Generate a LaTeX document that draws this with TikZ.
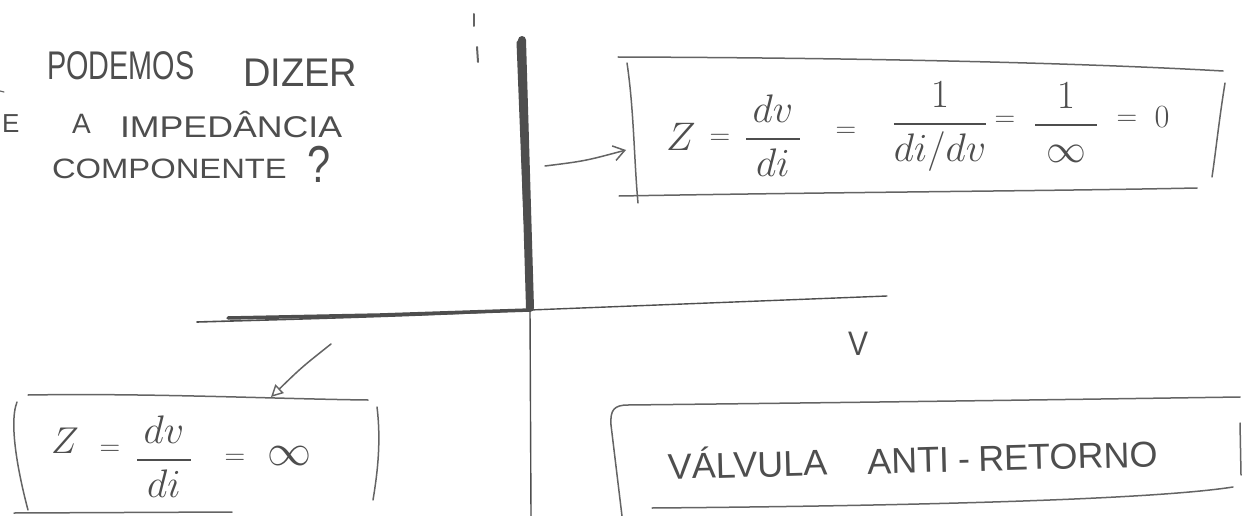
\documentclass[tikz,border=0pt]{standalone}
\usepackage{amsmath}
\usepackage{fontspec}
\usepackage{graphicx}
\setmainfont{Liberation Sans}
\usetikzlibrary{arrows.meta}
\definecolor{pencil}{RGB}{100,100,100}
\definecolor{lead}{RGB}{78,78,78}
\newcommand{\mbig}[2][1.6]{\scalebox{#1}{$\displaystyle #2$}}
\begin{document}
\begin{tikzpicture}[x=1pt,y=-1pt,
  stroke/.style={draw=pencil,line width=1.5pt,line cap=round,line join=round},
  thinaxis/.style={draw=lead,line width=1.4pt,line cap=round},
  thickaxis/.style={draw=lead,line width=#1,line cap=round},
  hand/.style={text=lead,inner sep=0pt,outer sep=0pt},
  fml/.style={hand,anchor=base,font=\fontsize{24.88}{25}\selectfont},
  arrowA/.style={stroke,-{Straight Barb[length=11pt,width=15pt,line width=1.5pt]}},
  arrowB/.style={stroke,-{Triangle[open,length=12pt,width=12pt,line width=1.4pt]}}
]
\useasboundingbox (0,0) rectangle (1252,516);
\clip (0,0) rectangle (1252,516);
\fill[white] (0,0) rectangle (1252,516);

% ---- question text (top left)
\node[hand,anchor=base west,font=\fontsize{40}{40}\selectfont] (q1a) at (47,80) {\scalebox{0.72}[1]{PODEMOS}};
\node[hand,anchor=base west,font=\fontsize{40}{40}\selectfont] (q1b) at (243,87) {\scalebox{0.95}[1]{DIZER}};
\draw[stroke,line width=1.2pt] (0,91) -- (4,92);
\node[hand,anchor=base west,font=\fontsize{26}{26}\selectfont] (q2f) at (2,132) {E};
\node[hand,anchor=base west,font=\fontsize{28}{28}\selectfont] (q2a) at (72,133) {A};
\node[hand,anchor=base west,font=\fontsize{30}{30}\selectfont] (q2b) at (120,137) {\scalebox{1.19}[1]{IMPEDÂNCIA}};
\node[hand,anchor=base west,font=\fontsize{28}{28}\selectfont] (q3a) at (52,178) {\scalebox{1.17}[1]{COMPONENTE}};
\node[hand,anchor=base west,font=\fontsize{52}{52}\selectfont] (q3b) at (307,182) {\scalebox{0.8}[1]{?}};

% ---- small tick marks at top
\draw[stroke,line width=2pt] (474,14) -- (474,26);
\draw[stroke,line width=2pt] (477,47) -- (478,62);

% ---- axes
\coordinate (O) at (530,310);
\draw[thickaxis=8pt] (522,40) -- (530,308);
\draw[thickaxis=3pt] (518,42) -- (525,220);
\draw[thinaxis] (O) -- (531,516);
\draw[thickaxis=1.6pt] (197,322) .. controls (300,319) and (420,316) .. (O);
\draw[thickaxis=3.5pt] (228,318) -- (380,315) -- (O);
\draw[thinaxis] (O) -- (887,296);
\node[hand,font=\fontsize{34}{34}\selectfont] (vlabel) at (858,344) {\scalebox{0.88}[1]{V}};

% ---- box 1 (top right)
\draw[stroke] (618,57) .. controls (900,58) and (1100,64) .. (1223,71);
\draw[stroke] (627,63) .. controls (634,110) and (634,160) .. (638,203);
\draw[stroke] (619,196) .. controls (850,192) and (1050,191) .. (1197,188);
\draw[stroke] (1225,83) .. controls (1219,120) and (1216,150) .. (1212,177);
\node[fml] (z1) at (681,150) {\mbig{Z}};
\node[fml] (e1) at (720,144) {\mbig[1.15]{=}};
\node[fml] (f1) at (773,149) {\mbig{\frac{\,dv\,}{\,di\,}}};
\node[fml] (e2) at (846,138) {\mbig[1.15]{=}};
\node[fml] (f2) at (940,134) {\mbig{\frac{1}{di/dv}}};
\node[fml] (e3) at (1005,127) {\mbig[1.15]{=}};
\node[fml] (f3) at (1066,135) {\mbig{\frac{1}{\;\infty\;}}};
\node[fml] (e4) at (1127,125) {\mbig[1.15]{=}};
\node[fml] (zero) at (1162,128) {\mbig[1.3]{0}};

% ---- box 2 (bottom left)
\draw[stroke] (28,395) .. controls (150,393) and (280,399) .. (368,400);
\draw[stroke] (17,402) .. controls (8,425) and (20,480) .. (28,510);
\draw[stroke] (377,407) .. controls (381,440) and (378,470) .. (373,500);
\draw[stroke] (14,513) -- (232,512);
\node[fml] (z2) at (65,453) {\mbig[1.5]{Z}};
\node[fml] (e5) at (110,455) {\mbig[1.15]{=}};
\node[fml] (f4) at (164,470) {\mbig{\frac{\,dv\,}{di}}};
\node[fml] (e6) at (235,464) {\mbig[1.15]{=}};
\node[fml] (inf2) at (290,465) {\mbig[1.77]{\infty}};

% ---- box 3 (bottom right)
\draw[stroke] (611,425) .. controls (610,410) and (614,405) .. (628,405) .. controls (900,402) and (1100,399) .. (1240,397);
\draw[stroke] (611,425) -- (622,516);
\draw[stroke] (1240,423) -- (1241,475);
\draw[stroke] (652,508) .. controls (900,506) and (1150,500) .. (1233,487);
\node[hand,anchor=base,rotate=1.5,font=\fontsize{36}{36}\selectfont] (valve) at (913,473) {VÁLVULA\hspace{40pt}ANTI\hspace{9pt}-\hspace{8pt}RETORNO};

% ---- arrows
\coordinate (a1s) at (545,166);
\coordinate (a1e) at (626,150);
\coordinate (a2s) at (331,344);
\coordinate (a2e) at (271,397);
\draw[arrowA] (a1s) .. controls (585,161) .. (a1e);
\draw[arrowB] (a2s) .. controls (302,367) .. (a2e);
\end{tikzpicture}
\end{document}
